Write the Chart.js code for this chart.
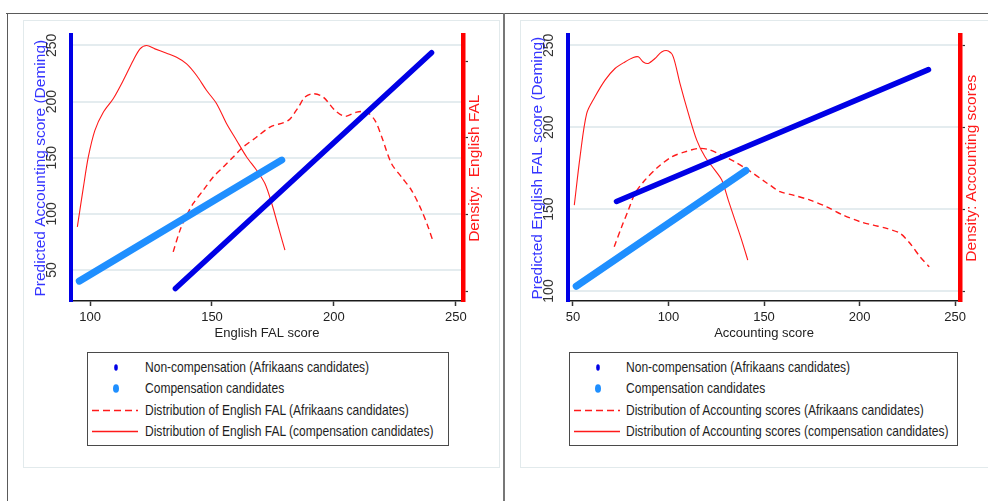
<!DOCTYPE html>
<html>
<head>
<meta charset="utf-8">
<script src="https://cdn.jsdelivr.net/npm/chart.js@4.4.0/dist/chart.umd.min.js"></script>
<style>
  body { margin: 0; width: 988px; height: 501px; background: #fff; position: relative; overflow: hidden;
         font-family: 'Liberation Sans', Arial, sans-serif; }
  .line { position: absolute; background: #5a5a5a; }
  .panel-box { position: absolute; border: 1px solid #e2eaec; box-sizing: border-box; }
  .chart-wrap { position: absolute; }
  .legend { position: absolute; top: 352px; height: 94px; border: 1px solid #4a4a4a; box-sizing: border-box; background: #fff; }
  .legend .row { position: absolute; left: 0; right: 0; height: 21px; line-height: 21px; font-size: 14.5px; color: #1e1e1e; white-space: nowrap; }
  .legend svg { position: absolute; top: 0; }
  /* the source picture is squeezed sideways, so the legend text is narrowed to match */
  .legend span { position: absolute; transform: scaleX(0.83); transform-origin: left center; }
</style>
</head>
<body>
  <div class="line" style="left:6px; top:13px; width:982px; height:1px;"></div>
  <div class="line" style="left:7px; top:13px; width:1px; height:488px;"></div>
  <div class="line" style="left:503px; top:13px; width:2px; height:488px; background:#777;"></div>

  <div class="panel-box" style="left:23px; top:20px; width:477px; height:448px;"></div>
  <div class="panel-box" style="left:520px; top:20px; width:470px; height:448px;"></div>

  <div class="chart-wrap" style="left:23px; top:20px;"><canvas id="chartLeft" width="477" height="330"></canvas></div>
  <div class="chart-wrap" style="left:520px; top:20px;"><canvas id="chartRight" width="468" height="330"></canvas></div>

  <div class="legend" id="legendLeft" style="left:87px; width:362px;"></div>
  <div class="legend" id="legendRight" style="left:569px; width:389px;"></div>

<script>
// ---- Panel 1: English FAL score -> predicted Accounting score ----
const leftXTicks = [100, 150, 200, 250];
const leftYTicks = [50, 100, 150, 200, 250];
const leftDensTicks = [0, 0.005, 0.01, 0.015];

const leftNonCompX = [135.0, 240.0];
const leftNonCompY = [33.5, 243.5];
const leftCompX = [95.6, 178.6];
const leftCompY = [40.1, 147.9];

// density of English FAL, Afrikaans candidates (dashed)
const leftDensAfrX = [134.1, 136.9, 139.6, 142.3, 146.4, 150.5, 154.6, 158.7, 162.8, 168.3, 173.8, 181.3, 185.4,
                      188.1, 191.5, 195.6, 200.4, 204.5, 209.3, 213.4, 216.8, 219.6, 223.6, 227.7, 231.8, 235.9, 238.6, 240.7];
const leftDensAfrY = [0.00256, 0.00398, 0.00495, 0.00572, 0.00658, 0.00745, 0.00810, 0.00876, 0.00941, 0.01006, 0.01071, 0.01115, 0.01201,
                      0.01267, 0.01289, 0.01267, 0.01180, 0.01141, 0.01169, 0.01169, 0.01115, 0.01006, 0.00832, 0.00745, 0.00658, 0.00528, 0.00419, 0.00321];

// density of English FAL, compensation candidates (solid)
const leftDensCompX = [94.8, 97.3, 99.3, 102.0, 105.5, 109.5, 113.6, 117.7, 120.5, 123.2, 126.6, 131.4, 135.5,
                       139.6, 143.7, 147.8, 151.9, 156.0, 160.1, 164.2, 168.3, 171.7, 174.5, 177.2, 179.9];
const leftDensCompY = [0.00419, 0.00680, 0.00876, 0.01050, 0.01169, 0.01256, 0.01375, 0.01506, 0.01582, 0.01604, 0.01582, 0.01553, 0.01527,
                       0.01484, 0.01408, 0.01310, 0.01224, 0.01093, 0.00984, 0.00876, 0.00789, 0.00702, 0.00572, 0.00419, 0.00267];

// ---- Panel 2: Accounting score -> predicted English FAL score ----
const rightXTicks = [50, 100, 150, 200, 250];
const rightYTicks = [100, 150, 200, 250];
const rightDensTicks = [0, 0.005, 0.01, 0.015];

const rightNonCompX = [72.8, 236.1];
const rightNonCompY = [154.7, 235.2];
const rightCompX = [51.7, 140.6];
const rightCompY = [102.9, 173.6];

// density of Accounting scores, Afrikaans candidates (dashed)
const rightDensAfrX = [71.6, 75.5, 79.0, 82.5, 87.7, 94.7, 101.7, 108.6, 115.6, 120.8, 127.9, 134.8, 141.8, 150.5,
                       153.1, 158.4, 165.3, 174.1, 182.8, 191.5, 200.3, 207.2, 214.2, 221.2, 226.4, 231.7, 236.5];
const rightDensAfrY = [0.00270, 0.00392, 0.00494, 0.00596, 0.00677, 0.00758, 0.00819, 0.00849, 0.00870, 0.00864, 0.00829, 0.00788, 0.00738, 0.00667,
                       0.00646, 0.00606, 0.00585, 0.00555, 0.00514, 0.00463, 0.00423, 0.00402, 0.00382, 0.00352, 0.00291, 0.00209, 0.00148];

// density of Accounting scores, compensation candidates (solid)
const rightDensCompX = [50.7, 53.7, 57.2, 61.5, 66.8, 72.0, 77.2, 81.6, 84.2, 86.8, 89.4, 92.9, 96.4,
                        99.9, 102.5, 106.0, 110.4, 114.8, 119.1, 124.3, 127.9, 131.3, 134.8, 138.3, 141.5];
const rightDensCompY = [0.00524, 0.00819, 0.01084, 0.01185, 0.01287, 0.01358, 0.01398, 0.01425, 0.01429, 0.01398, 0.01389, 0.01419, 0.01459,
                        0.01465, 0.01429, 0.01267, 0.01084, 0.00921, 0.00819, 0.00738, 0.00677, 0.00555, 0.00433, 0.00311, 0.00189];

const REGULAR = "'Liberation Sans', Arial, sans-serif";
const DARK_BLUE = '#0000e6';
const LIGHT_BLUE = '#1f8fff';
const RED = '#ff1a1a';

const toPoints = (xs, ys) => xs.map((x, i) => ({ x: x, y: ys[i] }));
const fixTicks = values => scale => { scale.ticks = values.map(v => ({ value: v })); };

// Stata puts the right axis title reading bottom-to-top, Chart.js rotates it the other way
const rightTitlePlugin = {
    id: 'rightTitle',
    afterDraw(chart, args, opts) {
        const s = chart.scales.yDens;
        const { ctx, chartArea } = chart;
        ctx.save();
        ctx.translate(s.left + opts.offset, (chartArea.top + chartArea.bottom) / 2);
        ctx.rotate(-Math.PI / 2);
        ctx.font = `15.5px ${REGULAR}`;
        ctx.fillStyle = opts.color;
        ctx.textAlign = 'center';
        ctx.textBaseline = 'middle';
        ctx.fillText(opts.text, 0, 0);
        ctx.restore();
    }
};

function buildPanel(canvasId, p) {
    const ctx = document.getElementById(canvasId).getContext('2d');
    return new Chart(ctx, {
        type: 'scatter',
        data: {
            datasets: [{
                label: 'Non-compensation (Afrikaans candidates)',
                data: toPoints(p.nonCompX, p.nonCompY),
                showLine: true, borderColor: DARK_BLUE, borderWidth: 5.5, borderCapStyle: 'round',
                pointRadius: 0, clip: false, yAxisID: 'y'
            }, {
                label: 'Compensation candidates',
                data: toPoints(p.compX, p.compY),
                showLine: true, borderColor: LIGHT_BLUE, borderWidth: 7, borderCapStyle: 'round',
                pointRadius: 0, clip: false, yAxisID: 'y'
            }, {
                label: p.densAfrLabel,
                data: toPoints(p.densAfrX, p.densAfrY),
                showLine: true, borderColor: RED, borderWidth: 1.4, borderDash: [6, 4],
                tension: 0.3, pointRadius: 0, yAxisID: 'yDens'
            }, {
                label: p.densCompLabel,
                data: toPoints(p.densCompX, p.densCompY),
                showLine: true, borderColor: RED, borderWidth: 1.1,
                tension: 0.3, pointRadius: 0, yAxisID: 'yDens'
            }]
        },
        options: {
            responsive: false,
            animation: false,
            devicePixelRatio: 1,
            layout: { padding: { top: 15, left: 0, right: 0, bottom: 0 } },
            plugins: {
                legend: { display: false },
                tooltip: { enabled: false },
                rightTitle: { text: p.densTitle, color: RED, offset: 12 }
            },
            scales: {
                x: {
                    type: 'linear', position: 'bottom', min: p.xMin, max: p.xMax,
                    afterBuildTicks: fixTicks(p.xTicks),
                    afterFit: s => { s.height = 49; },
                    grid: { drawOnChartArea: false, drawTicks: true, tickLength: 5, tickColor: '#333', tickWidth: 1.5 },
                    border: { color: '#1a1a1a', width: 1.5 },
                    ticks: { color: '#222', padding: 4, maxRotation: 0, font: { family: REGULAR, size: 13 } },
                    title: { display: true, text: p.xTitle, color: '#222', font: { family: REGULAR, size: 13 }, padding: { top: 0, bottom: 9 } }
                },
                y: {
                    type: 'linear', position: 'left', min: p.yMin, max: p.yMax,
                    afterBuildTicks: fixTicks(p.yTicks),
                    afterFit: s => { s.width = 48; },
                    grid: { color: '#e4ecef', lineWidth: 2, drawTicks: false },
                    border: { color: DARK_BLUE, width: 4 },
                    ticks: { color: '#333', padding: 7, minRotation: 90, maxRotation: 90, crossAlign: 'center', font: { family: REGULAR, size: 14 } },
                    title: { display: true, text: p.yTitle, color: '#3535ff', font: { family: REGULAR, size: 15.5 }, padding: { top: 8, bottom: 0 } }
                },
                yDens: {
                    type: 'linear', position: 'right', min: p.dMin, max: p.dMax,
                    afterBuildTicks: fixTicks(p.dTicks),
                    afterFit: s => { s.width = p.rightWidth; },
                    grid: { drawOnChartArea: false, drawTicks: true, tickLength: 5, tickColor: '#333', tickWidth: 1.2 },
                    border: { color: '#ff0000', width: 4.5 },
                    ticks: { callback: () => '', padding: 0 }
                }
            }
        },
        plugins: [rightTitlePlugin]
    });
}

function renderLegend(id, items) {
    const box = document.getElementById(id);
    box.innerHTML = items.map((it, i) => {
        const top = 4 + i * 21.3;
        let mark = '';
        if (it.kind === 'dot') {
            mark = `<svg width="50" height="21" style="left:4px"><ellipse cx="${it.cx}" cy="10.5" rx="${it.rx}" ry="${it.ry}" fill="${it.color}"/></svg>`;
        } else {
            const dash = it.kind === 'dash' ? 'stroke-dasharray="7,4"' : '';
            mark = `<svg width="50" height="21" style="left:4px"><line x1="0" y1="10.5" x2="46" y2="10.5" stroke="${RED}" stroke-width="1.6" ${dash}/></svg>`;
        }
        return `<div class="row" style="top:${top}px">${mark}<span style="left:${it.textLeft}px">${it.label}</span></div>`;
    }).join('');
}

buildPanel('chartLeft', {
    xMin: 92.2, xMax: 252.9, yMin: 22.4, yMax: 258.9, dMin: -0.00065, dMax: 0.0167,
    xTicks: leftXTicks, yTicks: leftYTicks, dTicks: leftDensTicks, rightWidth: 37,
    nonCompX: leftNonCompX, nonCompY: leftNonCompY, compX: leftCompX, compY: leftCompY,
    densAfrX: leftDensAfrX, densAfrY: leftDensAfrY, densCompX: leftDensCompX, densCompY: leftDensCompY,
    densAfrLabel: 'Distribution of English FAL (Afrikaans candidates)',
    densCompLabel: 'Distribution of English FAL (compensation candidates)',
    xTitle: 'English FAL score',
    yTitle: 'Predicted Accounting score (Deming)',
    densTitle: 'Density:  English FAL'
});

buildPanel('chartRight', {
    xMin: 47.4, xMax: 252.6, yMin: 93.9, yMax: 256.1, dMin: -0.00061, dMax: 0.0156,
    xTicks: rightXTicks, yTicks: rightYTicks, dTicks: rightDensTicks, rightWidth: 28,
    nonCompX: rightNonCompX, nonCompY: rightNonCompY, compX: rightCompX, compY: rightCompY,
    densAfrX: rightDensAfrX, densAfrY: rightDensAfrY, densCompX: rightDensCompX, densCompY: rightDensCompY,
    densAfrLabel: 'Distribution of Accounting scores (Afrikaans candidates)',
    densCompLabel: 'Distribution of Accounting scores (compensation candidates)',
    xTitle: 'Accounting score',
    yTitle: 'Predicted English FAL score (Deming)',
    densTitle: 'Density: Accounting scores'
});

renderLegend('legendLeft', [
    { kind: 'dot', cx: 24, rx: 1.8, ry: 3.2, color: DARK_BLUE, textLeft: 57, label: 'Non-compensation (Afrikaans candidates)' },
    { kind: 'dot', cx: 24, rx: 3, ry: 4.3, color: LIGHT_BLUE, textLeft: 57, label: 'Compensation candidates' },
    { kind: 'dash', textLeft: 57, label: 'Distribution of English FAL (Afrikaans candidates)' },
    { kind: 'solid', textLeft: 57, label: 'Distribution of English FAL (compensation candidates)' }
]);

renderLegend('legendRight', [
    { kind: 'dot', cx: 24, rx: 1.8, ry: 3.2, color: DARK_BLUE, textLeft: 56, label: 'Non-compensation (Afrikaans candidates)' },
    { kind: 'dot', cx: 24, rx: 3, ry: 4.3, color: LIGHT_BLUE, textLeft: 56, label: 'Compensation candidates' },
    { kind: 'dash', textLeft: 56, label: 'Distribution of Accounting scores (Afrikaans candidates)' },
    { kind: 'solid', textLeft: 56, label: 'Distribution of Accounting scores (compensation candidates)' }
]);
</script>
</body>
</html>
